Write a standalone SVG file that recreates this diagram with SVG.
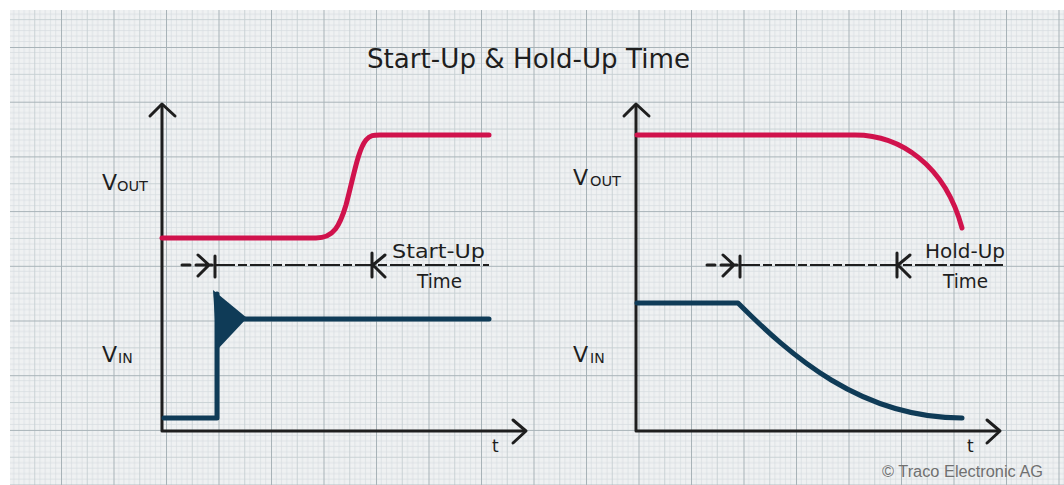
<svg xmlns="http://www.w3.org/2000/svg" width="1064" height="485" viewBox="0 0 1064 485">
<defs>
<pattern id="grid" patternUnits="userSpaceOnUse" x="8.5" y="47" width="52.5" height="54.7">
<rect width="52.5" height="54.7" fill="#eff1f2"/>
<g stroke="#d6dcdf" stroke-width="0.7">
<path d="M5.25,0V54.7M10.5,0V54.7M15.75,0V54.7M21,0V54.7M31.5,0V54.7M36.75,0V54.7M42,0V54.7M47.25,0V54.7"/>
<path d="M0,5.47H52.5M0,10.94H52.5M0,16.41H52.5M0,21.88H52.5M0,32.82H52.5M0,38.29H52.5M0,43.76H52.5M0,49.23H52.5"/>
</g>
<g stroke="#c6ced2" stroke-width="0.9">
<path d="M26.25,0V54.7M0,27.35H52.5"/>
</g>
<g stroke="#a8b3b8" stroke-width="1">
<path d="M0.5,0V54.7M0,0.5H52.5"/>
</g>
</pattern>
<style>
.ax{fill:none;stroke:#1e1e1e;stroke-width:3;stroke-linecap:round;stroke-linejoin:round}
.red{fill:none;stroke:#d0124c;stroke-width:5;stroke-linecap:round;stroke-linejoin:round}
.blue{fill:none;stroke:#0f3b57;stroke-width:5;stroke-linecap:round;stroke-linejoin:round}
.dash{fill:none;stroke:#1e1e1e;stroke-width:2.2;stroke-dasharray:20 3 9 3}
.mk{fill:none;stroke:#1e1e1e;stroke-width:3;stroke-linecap:round;stroke-linejoin:round}
.lbl{font-family:"DejaVu Sans","Liberation Sans",sans-serif;fill:#1e1e1e}
.v{font-size:22px}
.sub{font-size:14px}
.t{font-size:20px}
</style>
</defs>
<rect width="1064" height="485" fill="#ffffff"/>
<rect x="10" y="10" width="1054" height="475" fill="url(#grid)"/>

<g id="title"><text class="lbl" x="367" y="68" font-size="27" textLength="323" lengthAdjust="spacingAndGlyphs">Start-Up &amp; Hold-Up Time</text></g>

<g id="left-axes">
<path class="ax" d="M162,106V431H524"/>
<path class="ax" d="M150,116L162,104L175,116"/>
<path class="ax" d="M513,420L526,431L513,443"/>
<text class="lbl" x="492" y="452" font-size="17">t</text>
</g>

<g id="left-vout">
<path class="red" d="M162,238H316C334,238 340,225 346,205C354,175 358,150 366,140C370,135 374,135 380,135H489"/>
</g>

<g id="left-vin">
<path class="blue" d="M164,418H217V294"/>
<polygon points="213,290 247,318 217,350" fill="#0f3b57"/>
<path class="blue" d="M244,319H489"/>
</g>

<g id="left-labels">
<text class="lbl v" x="102" y="190">V</text><text class="lbl sub" x="117" y="191" textLength="31" lengthAdjust="spacingAndGlyphs">OUT</text>
<text class="lbl v" x="102" y="362">V</text><text class="lbl sub" x="118" y="363">IN</text>
</g>

<g id="startup-marker">
<path class="dash" d="M215,265H489"/>
<path class="mk" d="M182,265H190M196,265H212M198,255L209,265L198,276M215,256V277"/>
<path class="mk" d="M372,253V277M385,255L373,265L385,277"/>
<text class="lbl t" x="392" y="258" textLength="93" lengthAdjust="spacingAndGlyphs">Start-Up</text>
<text class="lbl t" x="417" y="288" textLength="45" lengthAdjust="spacingAndGlyphs">Time</text>
</g>

<g id="right-axes">
<path class="ax" d="M636,106V431H998"/>
<path class="ax" d="M624,116L636,104L649,116"/>
<path class="ax" d="M987,420L1000,431L987,443"/>
<text class="lbl" x="967" y="452" font-size="17">t</text>
</g>

<g id="right-vout">
<path class="red" d="M637,135H855C900,135 945,165 962,228"/>
</g>

<g id="right-vin">
<path class="blue" d="M637,303H738C790,355 860,418 962,418"/>
</g>

<g id="right-labels">
<text class="lbl v" x="573" y="185">V</text><text class="lbl sub" x="590" y="186" textLength="31" lengthAdjust="spacingAndGlyphs">OUT</text>
<text class="lbl v" x="573" y="362">V</text><text class="lbl sub" x="590" y="363">IN</text>
</g>

<g id="holdup-marker">
<path class="dash" d="M740,265H1003"/>
<path class="mk" d="M707,265H715M721,265H737M723,255L734,265L723,276M740,256V277"/>
<path class="mk" d="M897,253V277M910,255L898,265L910,277"/>
<text class="lbl t" x="925" y="258" textLength="80" lengthAdjust="spacingAndGlyphs">Hold-Up</text>
<text class="lbl t" x="943" y="288" textLength="45" lengthAdjust="spacingAndGlyphs">Time</text>
</g>

<g id="copyright"><text x="882" y="477" font-family="'Liberation Sans',Arial,sans-serif" font-size="16" fill="#707070" textLength="161" lengthAdjust="spacingAndGlyphs">© Traco Electronic AG</text></g>
</svg>
